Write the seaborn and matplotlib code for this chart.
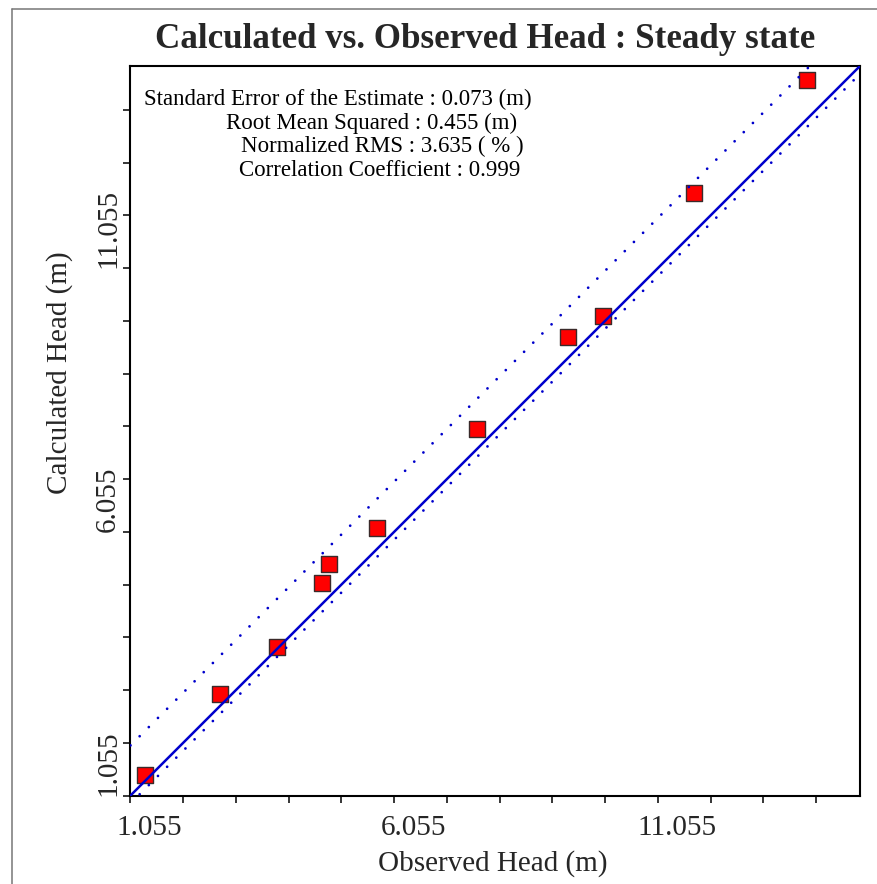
import numpy as np
import pandas as pd
import matplotlib
matplotlib.use("Agg")
import matplotlib.pyplot as plt
from matplotlib.lines import Line2D
from matplotlib.transforms import ScaledTranslation
import seaborn as sns

# Observed vs calculated heads at the monitoring wells (m)
observed = [1.33, 2.752, 3.827, 4.68, 4.818, 5.722, 7.618, 9.349, 10.007, 11.737, 13.88]
calculated = [1.444, 2.979, 3.876, 5.089, 5.444, 6.132, 7.997, 9.753, 10.145, 12.471, 14.615]

# Axis range and tick values (m)
axis_min, axis_max = 1.055, 14.885
major_ticks = [1.055, 6.055, 11.055]
tick_labels = ["1.055", "6.055", "11.055"]

# Offsets of the two confidence bands from the 1:1 line (m)
upper_band = 0.95
lower_band = -0.15

stats_lines = [
    "Standard Error of the Estimate : 0.073 (m)",
    "Root Mean Squared : 0.455 (m)",
    "Normalized RMS : 3.635 ( % )",
    "Correlation Coefficient : 0.999",
]

sns.set_style("ticks")
plt.rcParams["font.family"] = ["Liberation Serif", "DejaVu Serif"]

W, H = 878, 884
fig = plt.figure(figsize=(W / 100, H / 100), dpi=100)
L, R, T, B = 130.5, 860.0, 66.0, 795.5
ax = fig.add_axes([L / W, (H - B) / H, (R - L) / W, (B - T) / H])

df = pd.DataFrame({"Observed": observed, "Calculated": calculated})
sns.scatterplot(data=df, x="Observed", y="Calculated", marker="s", s=138,
                color="#ff0000", edgecolor="#3a2a2a", linewidth=1.0,
                zorder=2, ax=ax, legend=False)

line_x = np.array([axis_min, axis_max])
ax.plot(line_x, line_x, color="#0000cc", lw=1.8, zorder=3)
for off in (upper_band, lower_band):
    ax.plot(line_x, line_x + off, color="#0000cc", lw=2.0,
            linestyle=(0, (0.01, 4.65)), dash_capstyle="round", zorder=3)

ax.set_xlim(axis_min, axis_max)
ax.set_ylim(axis_min, axis_max)

minor = np.arange(axis_min, axis_max, 1.0)
ax.set_xticks(major_ticks)
ax.set_yticks(major_ticks)
ax.set_xticks(minor, minor=True)
ax.set_yticks(minor, minor=True)
ax.tick_params(which="both", direction="out", length=5, width=1.1, color="black")
ax.tick_params(axis="x", which="major", pad=23.6)
ax.tick_params(axis="y", which="major", pad=6.0)

ax.set_xticklabels(tick_labels, fontsize=21, va="baseline", ha="center")
ax.set_yticklabels(tick_labels, fontsize=21, rotation=90, rotation_mode="anchor",
                   ha="left", va="baseline")
shift = ScaledTranslation(19 / 100, 0, fig.dpi_scale_trans)
for lbl in ax.get_xticklabels():
    lbl.set_transform(lbl.get_transform() + shift)

for sp in ax.spines.values():
    sp.set_visible(True)
    sp.set_linewidth(1.5)
    sp.set_color("black")

ax.set_xlabel("Observed Head (m)", fontsize=21)
ax.set_ylabel("Calculated Head (m)", fontsize=21)
ax.xaxis.label.set_va("baseline")
ax.xaxis.set_label_coords((493 - L) / (R - L), (B - 871) / (B - T))
ax.yaxis.label.set(rotation_mode="anchor", ha="center", va="baseline")
ax.yaxis.set_label_coords((67 - L) / (R - L), (B - 373) / (B - T))

# Goodness-of-fit summary
stat_pos = [(144, 105), (226.5, 128.5), (241, 152), (239.5, 175.5)]
for text, (px, py) in zip(stats_lines, stat_pos):
    ax.text((px - L) / (R - L), (B - py) / (B - T), text, transform=ax.transAxes,
            fontsize=16.5, ha="left", va="baseline", color="black")

fig.text(485 / W, (H - 48) / H, "Calculated vs. Observed Head : Steady state",
         ha="center", va="baseline", fontsize=25.2, fontweight="bold")

# Outer frame on top and left
fig.add_artist(Line2D([11.5 / W, 1.0], [1 - 9 / H, 1 - 9 / H],
                      transform=fig.transFigure, color="#777777", lw=1.1))
fig.add_artist(Line2D([11.5 / W, 11.5 / W], [0.0, 1 - 9 / H],
                      transform=fig.transFigure, color="#777777", lw=1.1))

fig.savefig("out.png", dpi=100)
